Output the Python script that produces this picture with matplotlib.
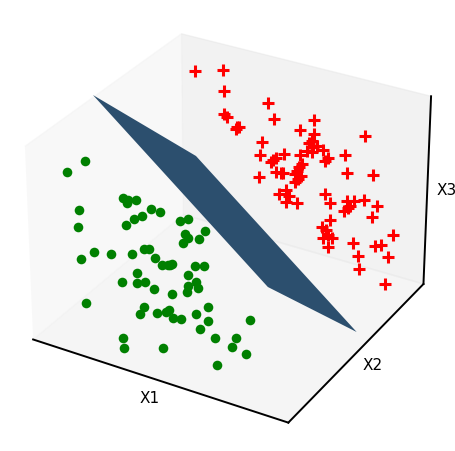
import numpy as np, matplotlib
matplotlib.use('Agg')
import matplotlib.pyplot as plt

# class 1 (X1, X2, X3 triples, thousandths of the axis range)
green_xyz = [9,338,718,-32,289,678,161,341,581,178,346,573,200,358,572,177,338,561,40,244,536,253,369,539,283,379,527,235,343,514,215,324,502,197,300,481,57,213,471,351,399,496,376,416,501,436,424,457,380,385,447,393,382,430,426,399,426,384,367,414,130,199,379,182,223,371,99,164,352,243,260,373,273,288,389,289,297,390,316,292,356,344,292,330,360,302,331,372,312,336,367,306,331,442,348,328,470,362,326,278,235,300,432,320,292,243,196,269,287,219,265,309,234,268,343,236,241,403,260,223,462,321,267,442,302,254,474,316,247,445,290,232,158,98,190,521,300,177,334,190,174,328,172,151,376,201,152,401,219,158,410,229,166,430,222,136,453,231,130,494,267,150,536,276,125,659,349,126,519,247,93,571,258,62,634,293,61,301,101,61,315,87,26,429,152,25,633,272,27,680,284,2,605,215,-39]
# class 2
red_xyz = [235,699,1050,319,750,1054,343,715,974,488,769,926,523,753,866,368,675,886,381,674,873,419,674,836,425,676,835,420,669,829,642,819,864,611,778,826,812,879,801,658,796,811,510,692,781,658,780,784,652,771,776,676,779,766,668,770,759,654,754,747,667,760,743,698,782,750,516,665,730,586,707,734,567,687,720,561,679,712,556,670,703,636,734,730,770,810,729,716,767,709,724,777,718,650,721,696,646,711,684,795,784,664,875,825,655,580,662,668,597,669,661,604,673,661,536,625,649,642,700,671,640,692,659,659,699,652,653,688,640,648,677,627,628,648,600,611,629,585,643,642,575,641,627,552,674,643,549,749,708,584,773,701,550,820,734,559,843,746,556,871,766,562,915,778,540,835,731,540,833,724,530,824,711,519,911,749,497,790,671,485,773,647,461,788,647,449,799,643,430,814,644,419,785,628,419,990,754,431,881,672,400,947,704,390,966,716,393,811,621,384,997,706,347,907,657,353,923,635,302,1016,655,246]
# separating plane corners
surf_x1 = [[0.0, 0.0], [0.691, 0.691]]
surf_x2 = [[0.413, 1.096], [0.413, 1.096]]
surf_x3 = [[1.012, 0.273], [0.270, -0.469]]
axis_labels = ['X1', 'X2', 'X3']

fig = plt.figure(figsize=(4.56, 4.52), dpi=100)
ax = fig.add_axes([2.88/456, (452+10.51-471.61)/452, 446.24/456, 471.61/452], projection='3d')
ax.apply_aspect = lambda position=None: None
ax.set_xlim(0, 1); ax.set_ylim(0, 1); ax.set_zlim(0, 1)
ax.set_box_aspect((4, 4, 2.8)); ax.view_init(28, -60)

g = np.array(green_xyz, float).reshape(-1, 3) / 1000
r = np.array(red_xyz, float).reshape(-1, 3) / 1000
ax.plot_surface(np.array(surf_x1), np.array(surf_x2), np.array(surf_x3), color='#2c4f6e', shade=False, linewidth=0)
ax.scatter(g[:, 0], g[:, 1], g[:, 2], c='green', marker='o', s=48, depthshade=False, linewidths=0)
ax.scatter(r[:, 0], r[:, 1], r[:, 2], c='red', marker='+', s=65, depthshade=False, linewidths=2.2)
ax.set_xticks([]); ax.set_yticks([]); ax.set_zticks([]); ax.grid(False)
for a in (ax.xaxis, ax.yaxis, ax.zaxis):
    a.line.set_linewidth(1.4); a.line.set_color('k')
ax.set_xlabel(axis_labels[0], fontsize=11, labelpad=-12)
ax.set_ylabel(axis_labels[1], fontsize=11, labelpad=-12)
ax.set_zlabel(axis_labels[2], fontsize=11, labelpad=-12)
fig.savefig('out.png', dpi=100)
